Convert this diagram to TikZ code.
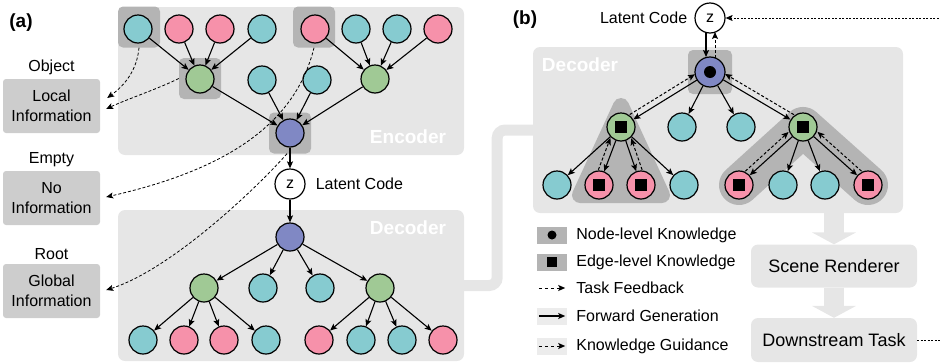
\documentclass[tikz,border=0pt]{standalone}
\usepackage{fontspec}
\setmainfont{Liberation Sans}
\usepackage{tikz}
\usetikzlibrary{arrows,arrows.meta,calc,positioning}

\definecolor{cyanfill}{RGB}{134,203,208}
\definecolor{pinkfill}{RGB}{246,145,170}
\definecolor{greenfill}{RGB}{160,201,149}
\definecolor{purplefill}{RGB}{128,136,196}
\definecolor{panelgray}{RGB}{230,230,230}
\definecolor{hlgray}{RGB}{180,180,180}
\definecolor{infogray}{RGB}{205,205,205}
\definecolor{leggray}{RGB}{236,236,236}

\tikzset{
    %Define standard arrow tip
    >={Stealth[length=7pt,width=6pt,inset=1.5pt]},
    %Define style for tree nodes
    treenode/.style={
           circle,
           draw=black, line width=1.2pt,
           minimum size=28pt,
           inner sep=0pt},
    cyannode/.style={treenode, fill=cyanfill},
    pinknode/.style={treenode, fill=pinkfill},
    greennode/.style={treenode, fill=greenfill},
    purplenode/.style={treenode, fill=purplefill},
    latent/.style={
           circle,
           draw=black, line width=1.2pt,
           minimum size=30pt,
           inner sep=0pt,
           fill=white},
    %Define knowledge marks
    nodemark/.style={
           path picture={\fill[black] (path picture bounding box.center) circle (#1);}},
    nodemark/.default=6pt,
    edgemark/.style={
           path picture={\fill[black] ([shift={(-#1,-#1)}]path picture bounding box.center)
                rectangle ([shift={(#1,#1)}]path picture bounding box.center);}},
    edgemark/.default=6pt,
    %Define style for boxes
    panel/.style={
           rectangle,
           rounded corners=7pt,
           fill=panelgray},
    hlsq/.style={
           rectangle,
           rounded corners=5pt,
           fill=hlgray,
           minimum width=42pt,
           minimum height=41pt},
    infobox/.style={
           rectangle,
           rounded corners=3pt,
           fill=infogray,
           minimum width=97pt,
           minimum height=54pt,
           align=center,
           font=\fontsize{16}{20}\selectfont},
    stagebox/.style={
           rectangle,
           rounded corners=7pt,
           fill=panelgray,
           minimum width=166pt,
           minimum height=43pt,
           font=\fontsize{18}{20}\selectfont},
    legbox/.style={
           rectangle,
           minimum width=30pt,
           minimum height=17pt,
           inner sep=0pt},
    legtext/.style={
           inner sep=0pt,
           anchor=west},
    paneltitle/.style={
           text=white,
           font=\fontsize{19}{20}\selectfont\bfseries},
    % Define arrow styles
    fwd/.style={
           ->,
           line width=1.1pt},
    fb/.style={
           ->,
           line width=1pt,
           dash pattern=on 3pt off 2pt,
           shorten <=14pt,
           shorten >=14pt},
    info/.style={
           ->,
           line width=0.8pt,
           dash pattern=on 3pt off 2pt},
    tf/.style={
           ->,
           line width=1pt,
           dash pattern=on 2pt off 1.5pt},
    link/.style={
           draw=panelgray,
           line width=11pt,
           rounded corners=8pt},
    bigarrow/.style={
           draw=panelgray,
           line width=20pt,
           -{Triangle[width=44pt,length=12pt]}}
}

\begin{document}
\begin{tikzpicture}[x=1pt,y=-1pt,font=\fontsize{16}{19}\selectfont]
\useasboundingbox (0,0) rectangle (940,362);
\clip (0,0) rectangle (940,362);

% panels
\node[panel, minimum width=346pt, minimum height=148pt](enc) at (291,81){};
\node[panel, minimum width=346pt, minimum height=151pt](deca) at (291,285.5){};
\node[panel, minimum width=370pt, minimum height=166pt](decb) at (718,130){};
\draw[link] (deca.east) -- ++(33,0) |- (decb.west);
\node[paneltitle] at (408,137){Encoder};
\node[paneltitle] at (408,228){Decoder};
\node[paneltitle] at (580,65){Decoder};
\node[font=\fontsize{19}{20}\selectfont\bfseries] at (21,23){(a)};
\node[font=\fontsize{19}{20}\selectfont\bfseries] at (525,20){(b)};

% highlights
\node[hlsq](h1) at (139,27){};
\node[hlsq](h2) at (314,27){};
\node[hlsq](h3) at (200,78.5){};
\node[hlsq](h4) at (290,133){};
\node[hlsq, minimum width=44pt, minimum height=44pt](h5) at (710,72){};
\filldraw[hlgray, line width=16pt, line join=round] (621,106) -- (580,195) -- (662,195) -- cycle;
\draw[hlgray, line width=40pt, line cap=round, line join=round] (739,185) -- (803,127) -- (868,185);

% (a) encoder
\node[cyannode](ea1) at (138,29){};
\node[pinknode](ea2) at (179,29){};
\node[pinknode](ea3) at (220,29){};
\node[cyannode](ea4) at (262,29){};
\node[pinknode](ea5) at (315,29){};
\node[cyannode](ea6) at (356,29){};
\node[cyannode](ea7) at (397,29){};
\node[pinknode](ea8) at (438,29){};
\node[greennode](eg1) at (200,79){};
\node[cyannode](ec1) at (262,80){};
\node[cyannode](ec2) at (317,80){};
\node[greennode](eg2) at (375,79){};
\node[purplenode](er) at (290,133){};

\node[latent](za) at (290,184){z};
\node[right=10pt of za, inner sep=0pt]{Latent Code};

% (a) decoder
\node[purplenode](dr) at (290,237){};
\node[greennode](dg1) at (204,288){};
\node[cyannode](dc1) at (263,288){};
\node[cyannode](dc2) at (320,288){};
\node[greennode](dg2) at (380,288){};
\node[cyannode](dl1) at (143,340){};
\node[pinknode](dl2) at (184,340){};
\node[pinknode](dl3) at (224,340){};
\node[cyannode](dl4) at (266,340){};
\node[pinknode](dl5) at (319,340){};
\node[cyannode](dl6) at (361,340){};
\node[cyannode](dl7) at (402,340){};
\node[pinknode](dl8) at (443,340){};

\path[fwd]
	(ea1) edge (eg1) (ea2) edge (eg1) (ea3) edge (eg1) (ea4) edge (eg1)
	(ea5) edge (eg2) (ea6) edge (eg2) (ea7) edge (eg2) (ea8) edge (eg2)
	(eg1) edge (er) (ec1) edge (er) (ec2) edge (er) (eg2) edge (er)
	(er) edge (za) (za) edge (dr)
	(dr) edge (dg1) (dr) edge (dc1) (dr) edge (dc2) (dr) edge (dg2)
	(dg1) edge (dl1) (dg1) edge (dl2) (dg1) edge (dl3) (dg1) edge (dl4)
	(dg2) edge (dl5) (dg2) edge (dl6) (dg2) edge (dl7) (dg2) edge (dl8);

% information boxes
\node[infobox](localbox) at (51.5,106){Local\\Information};
\node[above=3pt of localbox, inner sep=1pt]{Object};
\node[infobox](emptybox) at (51.5,198){No\\Information};
\node[above=3pt of emptybox, inner sep=1pt]{Empty};
\node[infobox](rootbox) at (51.5,291){Global\\Information};
\node[above=3pt of rootbox, inner sep=1pt]{Root};

\draw[info] (h1.south) .. controls (137,70) and (125,85) .. ($(localbox.east)+(7,-8)$);
\draw[info] (h3.west) .. controls (160,88) and (125,100) .. ($(localbox.east)+(6,3)$);
\draw[info] (h2.south) .. controls (295,125) and (225,170) .. ($(emptybox.east)+(6,-1)$);
\draw[info] ([xshift=-3pt]h4.south) .. controls (255,190) and (170,270) .. ($(rootbox.east)+(6,-1)$);

% (b) decoder
\node[latent](zb) at (710,18){z};
\node[left=7pt of zb, inner sep=0pt]{Latent Code};
\node[purplenode, nodemark, minimum size=30pt](br) at (710,72){};
\node[greennode, edgemark](bg1) at (621,127){};
\node[cyannode](bc1) at (682,127){};
\node[cyannode](bc2) at (741,127){};
\node[greennode, edgemark](bg2) at (803,127){};
\node[cyannode](bl1) at (557,185){};
\node[pinknode, edgemark](bl2) at (599,185){};
\node[pinknode, edgemark](bl3) at (641,185){};
\node[cyannode](bl4) at (684,185){};
\node[pinknode, edgemark](bl5) at (739,185){};
\node[cyannode](bl6) at (783,185){};
\node[cyannode](bl7) at (825,185){};
\node[pinknode, edgemark](bl8) at (868,185){};

\path[fwd]
	(br) edge (bg1) (br) edge (bc1) (br) edge (bc2) (br) edge (bg2)
	(bg1) edge (bl1) (bg1) edge (bl2) (bg1) edge (bl3) (bg1) edge (bl4)
	(bg2) edge (bl5) (bg2) edge (bl6) (bg2) edge (bl7) (bg2) edge (bl8);
\draw[fwd, shorten <=15pt, shorten >=15pt] ($(zb.center)!4pt!-90:(br.center)$) -- ($(br.center)!4pt!90:(zb.center)$);

% feedback
\draw[fb] ($(br.center)!5pt!-90:(zb.center)$) -- ($(zb.center)!5pt!90:(br.center)$);
\draw[fb] ($(bg1.center)!6pt!90:(br.center)$) -- ($(br.center)!6pt!-90:(bg1.center)$);
\draw[fb] ($(bg2.center)!6pt!-90:(br.center)$) -- ($(br.center)!6pt!90:(bg2.center)$);
\draw[fb] ($(bl2.center)!6pt!90:(bg1.center)$) -- ($(bg1.center)!6pt!-90:(bl2.center)$);
\draw[fb] ($(bl3.center)!6pt!-90:(bg1.center)$) -- ($(bg1.center)!6pt!90:(bl3.center)$);
\draw[fb] ($(bl5.center)!6pt!90:(bg2.center)$) -- ($(bg2.center)!6pt!-90:(bl5.center)$);
\draw[fb] ($(bl8.center)!6pt!-90:(bg2.center)$) -- ($(bg2.center)!6pt!90:(bl8.center)$);

% legend
\node[legbox, fill=hlgray, nodemark=4.5pt](lg1) at (552,235){};
\node[legtext, right=9pt of lg1]{Node-level Knowledge};
\node[legbox, fill=hlgray, edgemark=5pt](lg2) at (552,262){};
\node[legtext, right=9pt of lg2]{Edge-level Knowledge};
\node[legbox](lg3) at (552,288){};
\draw[->, line width=1pt, dash pattern=on 3pt off 3pt] ([xshift=2pt]lg3.west) -- ([xshift=-2pt]lg3.east);
\node[legtext, right=9pt of lg3]{Task Feedback};
\node[legbox, fill=leggray](lg4) at (552,316){};
\draw[fwd] ([xshift=2pt]lg4.west) -- ([xshift=-2pt]lg4.east);
\node[legtext, right=9pt of lg4]{Forward Generation};
\node[legbox, fill=leggray](lg5) at (552,346){};
\draw[->, line width=1pt, dash pattern=on 3pt off 3pt] ([xshift=2pt]lg5.west) -- ([xshift=-2pt]lg5.east);
\node[legtext, right=9pt of lg5]{Knowledge Guidance};

% renderer and task
\node[stagebox](sr) at (834,266){Scene Renderer};
\node[stagebox, minimum height=44pt](dt) at (834,340){Downstream Task};
\draw[bigarrow] (decb.south -| sr.north) -- (sr.north);
\draw[bigarrow] (sr.south) -- (dt.north);
\draw[tf] (dt.east) -- ++(30,0) |- (zb.east);
\end{tikzpicture}
\end{document}
